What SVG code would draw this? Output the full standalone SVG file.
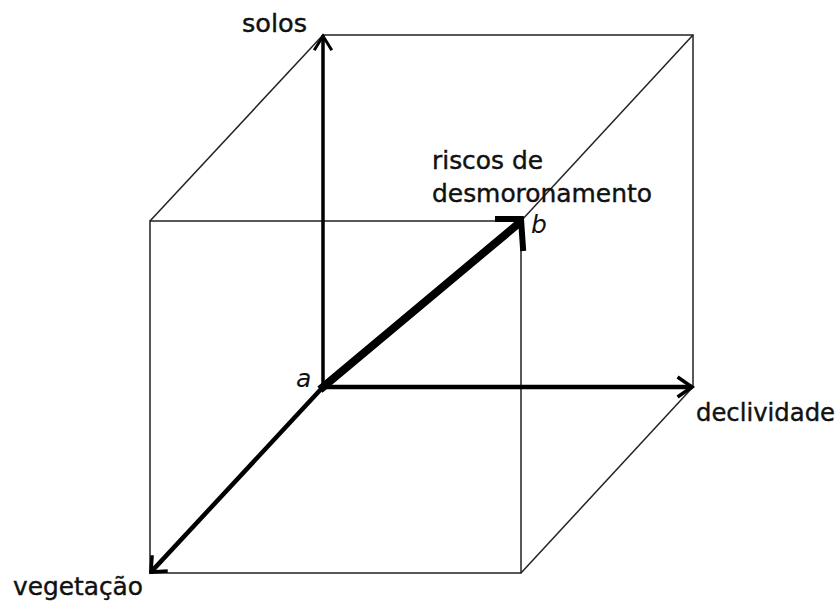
<svg xmlns="http://www.w3.org/2000/svg" width="839" height="602" viewBox="0 0 839 602">
<style>
.edge{stroke:#222;stroke-width:1.5;fill:none}
.ax{stroke:#000;fill:none;stroke-linecap:square;stroke-linejoin:miter}
.lbl{font-family:"DejaVu Sans",sans-serif;font-size:24px;fill:#111;stroke:#111;stroke-width:0.4}
.pt{font-family:"DejaVu Sans",sans-serif;font-size:25px;font-style:italic;fill:#111}
</style>
<rect width="839" height="602" fill="#fff"/>
<g id="cube">
<rect class="edge" x="323" y="35" width="370" height="352"/>
<rect class="edge" x="150" y="221" width="371" height="352"/>
<line class="edge" x1="150" y1="221" x2="323" y2="35"/>
<line class="edge" x1="521" y1="221" x2="693" y2="35"/>
<line class="edge" x1="521" y1="573" x2="693" y2="387"/>
<line class="edge" x1="150" y1="573" x2="323" y2="387"/>
</g>
<g id="connectors">
<g id="arrow-solos">
<line class="ax" stroke-width="3.5" x1="323" y1="387" x2="323" y2="37"/>
<polyline class="ax" stroke-width="3" points="315,49 323,36 331,49"/>
</g>
<g id="arrow-declividade">
<line class="ax" stroke-width="4.5" x1="323" y1="387" x2="690" y2="387"/>
<polyline class="ax" stroke-width="3.5" points="679,378 692,387 679,396"/>
</g>
<g id="arrow-vegetacao">
<line class="ax" stroke-width="4.5" x1="323" y1="387" x2="152" y2="571"/>
<polyline class="ax" stroke-width="3.5" points="152,557 151,572 166,571"/>
</g>
<g id="arrow-b">
<line class="ax" stroke-width="8" x1="323" y1="387" x2="518" y2="224"/>
<polyline class="ax" stroke-width="6" points="498,219 521,219 523,248"/>
</g>
</g>
<g id="node-solos"><text class="lbl" x="242" y="32" textLength="65" lengthAdjust="spacingAndGlyphs">solos</text></g>
<g id="node-declividade"><text class="lbl" x="696" y="421" textLength="139" lengthAdjust="spacingAndGlyphs">declividade</text></g>
<g id="node-vegetacao"><text class="lbl" x="13" y="595" textLength="130" lengthAdjust="spacingAndGlyphs">vegetação</text></g>
<g id="node-riscos">
<text class="lbl" x="432" y="169" textLength="111" lengthAdjust="spacingAndGlyphs">riscos de</text>
<text class="lbl" x="432" y="202" textLength="220" lengthAdjust="spacingAndGlyphs">desmoronamento</text>
</g>
<g id="node-a"><text class="pt" x="296" y="387">a</text></g>
<g id="node-b"><text class="pt" x="531" y="233">b</text></g>
</svg>
